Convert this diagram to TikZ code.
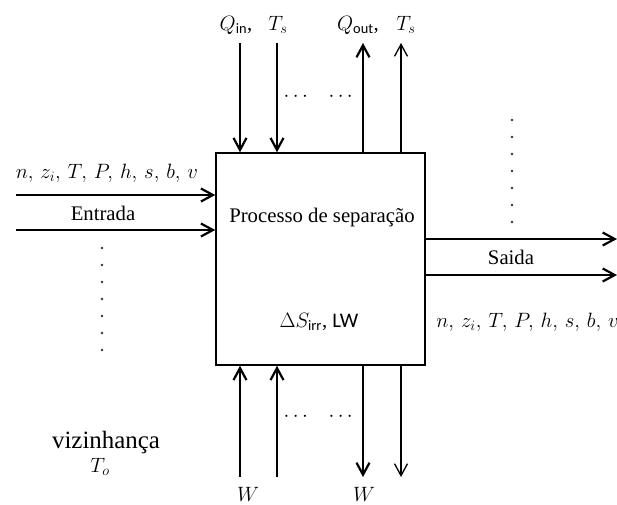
\documentclass[tikz,border=0pt]{standalone}
\usepackage{amsmath}
\usepackage{fontspec}
\setmainfont{Liberation Serif}
\setsansfont{Carlito}
\usetikzlibrary{positioning,arrows.meta}

\tikzset{
  flow/.style={line width=2.2pt, -{Straight Barb[length=12pt,width=13pt]}},
  thinflow/.style={line width=1.3pt, -{Straight Barb[length=12pt,width=13pt]}},
  lbl/.style={inner sep=1pt, font=\huge},
  dotmark/.style={fill=black!80},
}

\begin{document}
\begin{tikzpicture}[x=1pt, y=-1pt]
\useasboundingbox (0,0) rectangle (617,504);
% process box
\node[draw, line width=1.5pt, minimum width=209pt, minimum height=212pt, inner sep=0pt] (proc) at (320.5,259) {};
\node[lbl] (name) at (322,218) {Processo de separação};
\node[lbl] (loss) at (319,322) {$\Delta S_{\text{\sffamily irr}}$, \textsf{LW}};
% heat, top
\node[lbl] (qinlbl) at (236,25) {$Q_{\text{\sffamily in}}$,};
\node[lbl] (tslbl) at (278,25) {$T_s$};
\node[lbl] (qoutlbl) at (358,25) {$Q_{\text{\sffamily out}}$,};
\node[lbl] (tsoutlbl) at (406,25) {$T_s$};
\coordinate (qa) at (240,43);
\coordinate (qb) at (277,43);
\coordinate (qc) at (363,43);
\coordinate (qd) at (401,43);
\draw[flow] (qa) -- (qa |- proc.north);
\draw[flow] (qb) -- (qb |- proc.north);
\draw[flow] (qc |- proc.north) -- (qc);
\draw[thinflow] (qd |- proc.north) -- (qd);
\node[lbl] (topdots) at (320,97) {$\cdots\;\;\;\cdots$};
% work, bottom
\coordinate (wa) at (240,477);
\coordinate (wb) at (277,477);
\coordinate (wc) at (363,477);
\coordinate (wd) at (401,477);
\draw[flow] (wa) -- (wa |- proc.south);
\draw[flow] (wb) -- (wb |- proc.south);
\draw[flow] (wc |- proc.south) -- (wc);
\draw[thinflow] (wd |- proc.south) -- (wd);
\node[lbl] (botdots) at (320,417) {$\cdots\;\;\;\cdots$};
\node[lbl] (wlbla) at (248,494) {$W$};
\node[lbl] (wlblb) at (364,494) {$W$};
% inlet streams
\coordinate (ina) at (16,195);
\coordinate (inb) at (16,230);
\draw[flow] (ina) -- (ina -| proc.west);
\draw[flow] (inb) -- (inb -| proc.west);
\node[lbl] (inprops) at (107,173) {$n,\, z_i,\, T,\, P,\, h,\, s,\, b,\, v$};
\node[lbl] (inlbl) at (103,213) {Entrada};
\foreach \k in {0,...,6} \fill[dotmark] (102,248+\k*17) circle (1.3pt);
% outlet streams
\coordinate (outa) at (617,239);
\coordinate (outb) at (617,275);
\draw[flow] (outa -| proc.east) -- (outa);
\draw[flow] (outb -| proc.east) -- (outb);
\node[lbl] (outlbl) at (511,257) {Saida};
\node[lbl, anchor=east] (outprops) at (620,322) {$n,\, z_i,\, T,\, P,\, h,\, s,\, b,\, v$};
\foreach \k in {0,...,6} \fill[dotmark] (512,120+\k*17) circle (1.3pt);
% surroundings
\node[lbl, font=\Huge] (surr) at (106,443) {vizinhança};
\node[lbl] (t0) at (100,467) {$T_o$};
\end{tikzpicture}
\end{document}
